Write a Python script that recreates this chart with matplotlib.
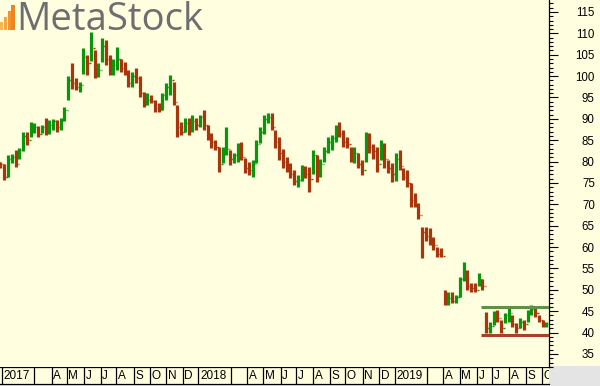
import numpy as np
import pandas as pd
import matplotlib
matplotlib.use("Agg")
import matplotlib.pyplot as plt
from matplotlib.patches import Rectangle
from matplotlib.ticker import MultipleLocator

# ---- data (weekly OHLC) ----
first_week = "2016-12-28"   # Wednesday of first weekly bar
first_open = 79.8
high = [80.0, 79.5, 81.5, 81.8, 82.7, 83.2, 87.0, 87.0, 89.3, 89.0,
        88.3, 88.6, 90.2, 89.7, 90.0, 89.7, 90.2, 92.8, 100.0, 103.0,
        99.5, 98.6, 106.6, 105.0, 110.3, 106.0, 103.0, 109.0, 108.5, 105.0,
        104.0, 106.8, 104.0, 103.3, 101.5, 101.0, 102.0, 100.0, 96.3, 96.0,
        95.6, 94.4, 93.7, 96.0, 98.5, 100.3, 98.6, 93.2, 89.3, 90.2,
        90.2, 90.9, 90.2, 91.0, 92.0, 88.6, 86.7, 85.0, 83.5, 83.4,
        88.0, 82.7, 82.0, 84.4, 84.6, 80.8, 80.0, 80.4, 85.0, 88.0,
        90.9, 91.4, 91.4, 87.4, 85.8, 83.0, 81.0, 79.7, 78.0, 76.9,
        79.2, 79.0, 78.7, 82.7, 81.5, 80.5, 83.4, 85.8, 86.2, 88.5,
        89.3, 87.4, 85.8, 83.4, 83.4, 82.0, 80.4, 87.0, 86.7, 84.0,
        83.4, 85.0, 84.4, 80.4, 79.7, 82.0, 82.7, 78.5, 78.0, 75.0,
        72.7, 70.3, 64.7, 64.7, 64.5, 62.4, 60.0, 59.8, 50.0, 49.5,
        49.5, 48.8, 53.0, 56.5, 54.6, 51.6, 51.6, 54.0, 52.5, 44.8,
        42.5, 45.0, 45.3, 43.0, 44.6, 45.8, 44.1, 42.3, 43.4, 43.0,
        45.3, 46.5, 45.8, 44.1, 43.0, 42.5]
low = [78.5, 75.7, 76.5, 79.7, 78.7, 80.5, 82.5, 83.8, 85.8, 86.8,
       85.8, 86.8, 86.2, 86.5, 87.3, 87.0, 87.5, 89.5, 94.4, 97.0,
       96.8, 96.3, 100.5, 100.3, 103.5, 99.5, 99.8, 103.3, 102.5, 100.3,
       100.3, 101.5, 101.0, 100.3, 97.5, 97.5, 98.5, 95.0, 92.8, 93.2,
       93.7, 91.6, 91.6, 92.0, 94.5, 95.5, 93.2, 85.8, 86.2, 87.0,
       86.2, 87.0, 87.4, 88.2, 87.5, 85.0, 83.2, 82.7, 77.6, 79.7,
       81.5, 79.2, 79.7, 80.0, 80.4, 77.3, 76.9, 76.4, 79.7, 84.4,
       86.5, 89.0, 87.4, 83.2, 80.4, 78.5, 77.6, 76.2, 74.5, 74.0,
       75.5, 76.2, 72.9, 77.0, 75.2, 76.5, 80.0, 82.0, 82.7, 84.5,
       85.8, 83.4, 83.2, 79.9, 79.7, 78.5, 76.9, 80.0, 82.0, 80.5,
       77.6, 80.4, 78.5, 77.3, 75.2, 75.5, 78.0, 75.7, 74.0, 69.4,
       69.4, 66.5, 57.5, 61.5, 60.5, 59.3, 57.7, 57.7, 46.5, 46.5,
       46.9, 46.9, 48.3, 52.0, 50.0, 49.5, 49.5, 51.0, 50.0, 40.0,
       40.0, 41.8, 42.5, 40.0, 42.3, 42.5, 41.3, 40.0, 41.0, 40.6,
       42.5, 44.1, 43.7, 42.5, 41.3, 41.3]
close = [79.5, 76.5, 80.5, 81.0, 79.5, 82.8, 86.0, 85.0, 87.5, 88.2,
         86.5, 88.0, 87.0, 88.5, 89.5, 88.0, 89.8, 92.0, 99.0, 98.5,
         97.5, 97.8, 104.5, 103.0, 106.5, 100.5, 101.5, 107.0, 104.0, 101.5,
         102.5, 104.0, 102.0, 101.0, 98.5, 100.0, 99.5, 96.0, 93.5, 94.5,
         94.2, 92.5, 92.0, 95.5, 97.5, 99.0, 94.0, 88.0, 87.0, 89.0,
         87.5, 89.5, 88.5, 90.5, 88.5, 86.0, 84.5, 83.5, 79.5, 82.0,
         83.0, 80.5, 81.5, 82.5, 81.0, 78.5, 78.0, 79.5, 84.0, 87.0,
         90.0, 90.5, 88.0, 84.5, 82.0, 80.0, 78.5, 77.0, 75.5, 75.8,
         78.0, 77.0, 76.0, 81.5, 77.5, 79.5, 82.5, 84.5, 85.5, 87.5,
         86.5, 84.5, 84.0, 81.5, 82.0, 79.5, 78.0, 85.5, 83.5, 82.5,
         79.5, 83.5, 80.5, 78.5, 77.0, 80.5, 79.0, 76.5, 75.0, 71.0,
         70.0, 67.5, 63.5, 62.5, 61.5, 60.5, 58.5, 58.0, 47.5, 48.0,
         47.5, 48.3, 52.5, 54.0, 51.0, 50.5, 50.0, 52.5, 51.0, 41.0,
         41.5, 44.0, 43.5, 41.0, 44.0, 44.5, 42.0, 41.0, 42.5, 42.0,
         45.0, 45.5, 44.5, 43.0, 42.0, 42.0]
channel_start = "2019-06-10"
channel_top = 46.06
channel_bottom = 39.44
axis_start = "2017-01-02"
x_range = (-3.6, 725.5)
y_range = (31.95, 117.8)

# ---- colours ----
BG = "#ffffe0"
GREEN = "#0a960a"
RED = "#a8360c"

W, H = 600, 386
fig = plt.figure(figsize=(W / 100, H / 100), dpi=100, facecolor="#e4e4e4")

# right axis background (pale yellow)
fig.add_artist(Rectangle((549 / W, (H - 366) / H), 51 / W, 366 / H,
                         transform=fig.transFigure, facecolor=BG,
                         edgecolor="none", zorder=0))

ax = fig.add_axes([0, (H - 367) / H, 549 / W, 367 / H], facecolor=BG)
ax.set_zorder(1)

base = np.datetime64(axis_start)
dates = pd.date_range(first_week, periods=len(close), freq="7D")
xb = np.busday_count(base, dates.values.astype("datetime64[D]")).astype(float)
c = np.array(close)
o = np.r_[first_open, c[:-1]]
up = c >= o
cols = np.where(up, GREEN, RED)

ax.vlines(xb, low, high, colors=cols, linewidth=2.3, zorder=3)
tw = 2.0
ax.hlines(o, xb - tw, xb, colors=cols, linewidth=1.0, zorder=3)
ax.hlines(c, xb, xb + tw, colors=cols, linewidth=1.0, zorder=3)

# channel lines
cs = np.busday_count(base, np.datetime64(channel_start))
ax.hlines([channel_top], cs, x_range[1], colors="#5f9045", linewidth=2.2, zorder=4)
ax.hlines([channel_bottom], cs, x_range[1], colors="#a8402a", linewidth=2.2, zorder=4)

ax.set_xlim(*x_range)
ax.set_ylim(*y_range)
for s in ["top", "left", "bottom"]:
    ax.spines[s].set_visible(False)
ax.spines["right"].set_color("black")
ax.spines["right"].set_linewidth(0.9)
ax.set_xticks([])
ax.yaxis.tick_right()
ax.yaxis.set_major_locator(MultipleLocator(5))
ax.yaxis.set_minor_locator(MultipleLocator(1))
ax.tick_params(axis="y", which="major", direction="out", length=6.5, width=0.8,
               pad=26.5, labelsize=8.3, colors="black")
ax.tick_params(axis="y", which="minor", direction="out", length=3.0, width=0.8,
               colors="black")
for lab in ax.get_yticklabels():
    lab.set_horizontalalignment("right")
    lab.set_fontfamily("Liberation Sans")
    lab.set_clip_on(False)

# logo
ax.text(16 / 549, (367 - 30) / 367, "MetaStock", transform=ax.transAxes,
        fontsize=27.5, family="Open Sans", color="#6e6e71", va="baseline",
        ha="left", zorder=1)
icon = [(0, 3, 22, "#f9b650"), (3.8, 6.8, 17, "#f7a53e"),
        (7.6, 10.6, 11, "#f4932e"), (11.4, 14.6, 5, "#f0821f")]
for x0, x1, top, colr in icon:
    ax.add_patch(Rectangle((x0 / 549, (367 - 30) / 367), (x1 - x0) / 549,
                           (30 - top) / 367, transform=ax.transAxes,
                           facecolor=colr, edgecolor="none", zorder=1))

# month band
bx = fig.add_axes([0, (H - 384) / H, 549 / W, 17 / H], facecolor=BG)
bx.set_xlim(*x_range)
bx.set_ylim(0, 1)
bx.set_xticks([])
bx.set_yticks([])
for s in ["left", "right"]:
    bx.spines[s].set_visible(False)
for s in ["top", "bottom"]:
    bx.spines[s].set_linewidth(0.9)
months = pd.date_range("2017-01-01", "2019-10-01", freq="MS")
for m in months:
    if m.month == 2:
        continue
    mx = np.busday_count(base, np.datetime64(m.date()))
    bx.vlines(mx, 0, 1, colors="black", linewidth=0.9)
    if m.month == 1:
        lab = str(m.year)
    elif m.month == 3:
        lab = ""
    else:
        lab = m.strftime("%b")[0]
    bx.text(mx + 2.2, 0.45, lab, fontsize=8.5, family="Liberation Sans",
            va="center", ha="left", color="black", clip_on=True)

fig.savefig("out.png", dpi=100, facecolor=fig.get_facecolor())
